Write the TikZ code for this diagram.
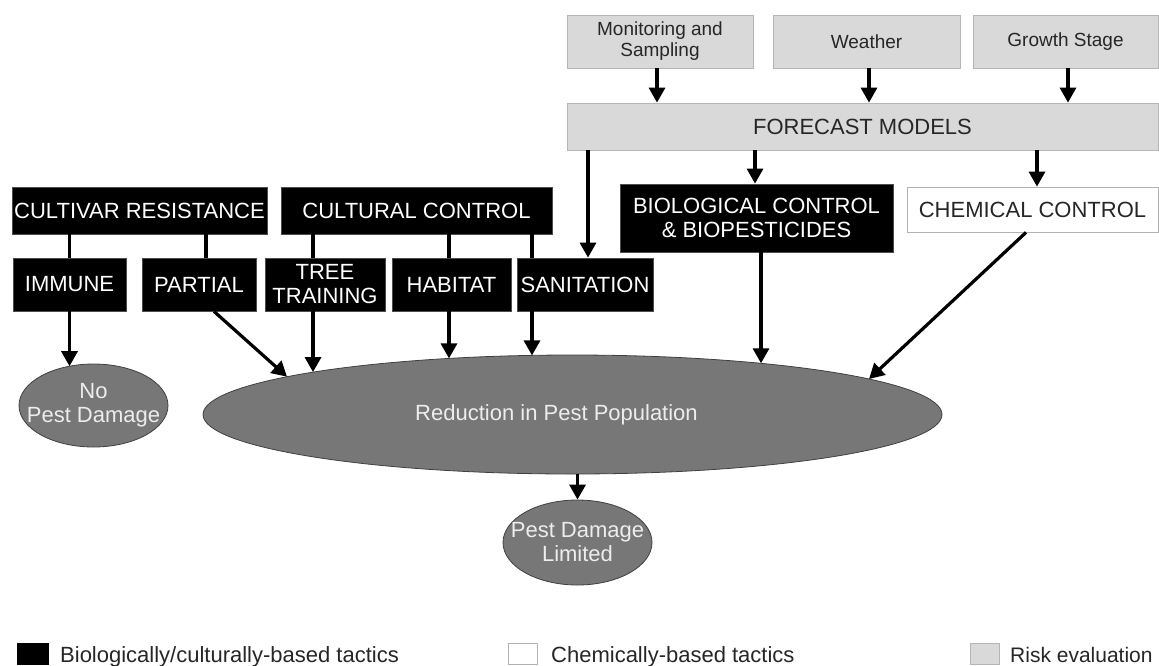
\documentclass[tikz,border=0pt]{standalone}
\usepackage{fontspec}
\setmainfont{Liberation Sans}
\usetikzlibrary{arrows.meta,shapes.geometric}
\definecolor{riskgray}{HTML}{D9D9D9}
\definecolor{riskborder}{HTML}{B5B5B5}
\definecolor{ellgray}{HTML}{777777}
\begin{document}
\begin{tikzpicture}[x=1pt,y=-1pt,
  risk/.style={draw=riskborder, fill=riskgray, line width=0.8pt, inner sep=0pt, align=center, text=black!85, font=\fontsize{19}{21}\selectfont},
  tactic/.style={draw=black!70, fill=black, line width=0.8pt, text=white, inner sep=0pt, align=center, font=\fontsize{22}{24}\selectfont},
  chemstyle/.style={draw=black!30, fill=white, line width=0.8pt, text=black!85, inner sep=0pt, align=center, font=\fontsize{22}{24}\selectfont},
  outcome/.style={ellipse, draw=black!75, fill=ellgray, line width=0.8pt, text=white!93!black, inner xsep=-14pt, inner ysep=0pt, font=\fontsize{22}{24}\selectfont},
  link/.style={line width=3.2pt},
  arr/.style={line width=3.2pt, -{Triangle[width=16pt,length=15pt]}},
  legtext/.style={anchor=base west, inner sep=0pt, text=black!85, font=\fontsize{22}{24}\selectfont}
]
\useasboundingbox (0,0) rectangle (1159,665);

% risk evaluation
\node[risk, minimum width=186pt, minimum height=53pt] (mon) at (660,41.5) {Monitoring and\\Sampling};
\node[risk, minimum width=187pt, minimum height=53pt] (wea) at (866.5,41.5) {Weather};
\node[risk, minimum width=185pt, minimum height=53pt] (gro) at (1065.5,41.5) {Growth Stage};
\node[risk, minimum width=591pt, minimum height=47pt, font=\fontsize{22}{24}\selectfont] (fc) at (862.5,126.5) {FORECAST MODELS};

\draw[arr] ([xshift=-3pt]mon.south) -- ([xshift=-3pt]mon.south |- fc.north);
\draw[arr] ([xshift=2.5pt]wea.south) -- ([xshift=2.5pt]wea.south |- fc.north);
\draw[arr] ([xshift=2.5pt]gro.south) -- ([xshift=2.5pt]gro.south |- fc.north);

% tactics
\node[tactic, minimum width=255pt, minimum height=47pt] (cr) at (139.5,210.5) {CULTIVAR RESISTANCE};
\node[tactic, minimum width=271pt, minimum height=47pt] (cc) at (416.5,210.5) {CULTURAL CONTROL};
\node[tactic, minimum width=273pt, minimum height=68pt] (bio) at (756.5,218) {BIOLOGICAL CONTROL\\\& BIOPESTICIDES};
\node[chemstyle, minimum width=251pt, minimum height=45pt] (chem) at (1032.5,209.5) {CHEMICAL CONTROL};

\node[tactic, minimum width=113pt, minimum height=53pt] (imm) at (69.5,284.5) {IMMUNE};
\node[tactic, minimum width=114pt, minimum height=53pt] (par) at (199,284.5) {PARTIAL};
\node[tactic, minimum width=120pt, minimum height=53pt] (tree) at (325,284.5) {TREE\\TRAINING};
\node[tactic, minimum width=119pt, minimum height=53pt] (hab) at (451.5,284.5) {HABITAT};
\node[tactic, minimum width=136pt, minimum height=53pt] (san) at (585,284.5) {SANITATION};

\draw[link] (imm.north) -- (imm.north |- cr.south);
\draw[link] ([xshift=7pt]par.north) -- ([xshift=7pt]par.north |- cr.south);
\draw[link] ([xshift=-12pt]tree.north) -- ([xshift=-12pt]tree.north |- cc.south);
\draw[link] ([xshift=-2.5pt]hab.north) -- ([xshift=-2.5pt]hab.north |- cc.south);
\draw[link] ([xshift=-53pt]san.north) -- ([xshift=-53pt]san.north |- cc.south);

\draw[arr] ([xshift=3pt]san.north |- fc.south) -- ([xshift=3pt]san.north);
\draw[arr] ([xshift=-1.5pt]bio.north |- fc.south) -- ([xshift=-1.5pt]bio.north);
\draw[arr] ([xshift=4.5pt]chem.north |- fc.south) -- ([xshift=4.5pt]chem.north);

% outcomes
\node[outcome, align=center, minimum width=149pt, minimum height=83pt] (nop) at (93.5,405.5) {No\\Pest Damage};
\node[outcome, minimum width=739pt, minimum height=119pt] (red) at (572.5,414.5) {\hspace*{-32pt}Reduction in Pest Population};
\node[outcome, align=center, minimum width=149pt, minimum height=85pt] (lim) at (577.5,542.5) {Pest Damage\\Limited};

\draw[arr] (imm.south) -- ([shift={(-24,-39.3)}]nop.center);
\draw[arr] ([xshift=15pt]par.south) -- ([shift={(-285.5,-37.8)}]red.center);
\draw[arr] ([xshift=-12pt]tree.south) -- ([shift={(-259.5,-42.4)}]red.center);
\draw[arr] ([xshift=-2.5pt]hab.south) -- ([shift={(-123.5,-56.1)}]red.center);
\draw[arr] ([xshift=-53pt]san.south) -- ([shift={(-40.5,-59.1)}]red.center);
\draw[arr] ([xshift=4.5pt]bio.south) -- ([shift={(188.5,-51.2)}]red.center);
\draw[arr] ([xshift=-6.5pt]chem.south) -- ([shift={(296.5,-35.5)}]red.center);
\draw[arr] (lim.north |- red.south) -- (lim.north);

% legend
\node[draw=black, fill=black, minimum width=31pt, minimum height=21pt, inner sep=0pt] (lb) at (32.5,653.5) {};
\node[draw=black!30, fill=white, line width=0.8pt, minimum width=29pt, minimum height=21pt, inner sep=0pt] (lw) at (523,653.5) {};
\node[draw=riskborder, fill=riskgray, line width=0.8pt, minimum width=29pt, minimum height=21pt, inner sep=0pt] (lg) at (985,653.5) {};
\node[legtext] (tb) at (60,662) {Biologically/culturally-based tactics};
\node[legtext] (tw) at (551,662) {Chemically-based tactics};
\node[legtext, font=\fontsize{21}{24}\selectfont] (tg) at (1010,662) {Risk evaluation};
\end{tikzpicture}
\end{document}
